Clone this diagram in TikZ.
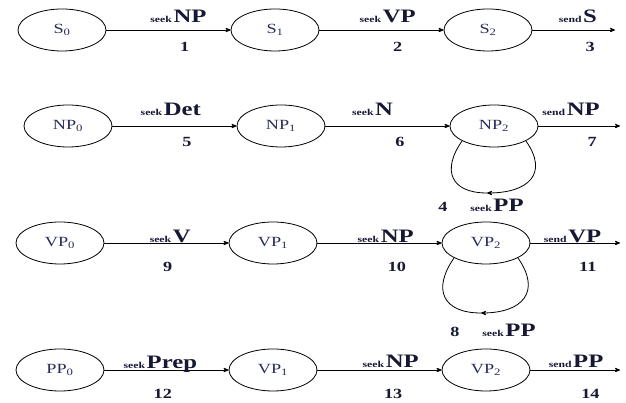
\documentclass[tikz,border=0pt]{standalone}
\usepackage{fontspec}
\setmainfont[FakeStretch=1.3]{Liberation Serif}
\usepackage{xcolor}
\usepackage{tikz}
\usetikzlibrary{arrows}
\usetikzlibrary{shapes.geometric}
\usetikzlibrary{positioning}
\definecolor{ink}{RGB}{40,44,92}
\definecolor{labink}{RGB}{22,24,52}
\newcommand{\seek}[1]{{\fontsize{9}{9}\selectfont\bfseries seek}\,{\fontsize{19}{19}\selectfont\bfseries #1}}
\newcommand{\send}[1]{{\fontsize{9}{9}\selectfont\bfseries send}\,{\fontsize{19}{19}\selectfont\bfseries #1}}

\begin{document}
\begin{tikzpicture}[x=1pt,y=1pt,->,>=stealth',node distance=213pt,line width=0.8pt]
						\tikzstyle{st}=[draw, ellipse, minimum width=88pt, minimum height=42pt, inner sep=0pt, text=ink, font=\fontsize{14}{14}\selectfont]
						\tikzstyle{act}=[anchor=base, inner sep=0pt, text=labink]
						\tikzstyle{num}=[inner sep=0pt, text=labink, font=\fontsize{14}{14}\selectfont\bfseries]
						\useasboundingbox (0,0) rectangle (626,403);
						% S
						\node[st] 			(s0) at (62,373)        {S\textsubscript{0}};
						\node[st] 			(s1) [right of=s0]      {S\textsubscript{1}};
						\node[st] 			(s2) [right of=s1]      {S\textsubscript{2}};
						\coordinate 		(s3) at (615,373);
						% NP
						\node[st] 			(np0) at (68,277)       {NP\textsubscript{0}};
						\node[st] 			(np1) [right of=np0]    {NP\textsubscript{1}};
						\node[st] 			(np2) [right of=np1]    {NP\textsubscript{2}};
						\coordinate 		(np3) at (620,277);
						\path (np2) ++(-7,-67) coordinate (np2lp);
						% VP
						\node[st] 			(vp0) at (60,160)       {VP\textsubscript{0}};
						\node[st] 			(vp1) [right of=vp0]    {VP\textsubscript{1}};
						\node[st] 			(vp2) [right of=vp1]    {VP\textsubscript{2}};
						\coordinate 		(vp3) at (620,160);
						\path (vp2) ++(-5,-70) coordinate (vp2lp);
						% PP
						\node[st] 			(pp0) at (60,33)        {PP\textsubscript{0}};
						\node[st] 			(pp1) [right of=pp0]    {VP\textsubscript{1}};
						\node[st] 			(pp2) [right of=pp1]    {VP\textsubscript{2}};
						\coordinate 		(pp3) at (620,33);
					\path
					 (s0) edge node[act, pos=.58, yshift=7pt] {\seek{NP}} node[num, pos=.63, yshift=-17pt] {1} (s1)
					 (s1) edge node[act, pos=.55, yshift=7pt] {\seek{VP}} node[num, pos=.63, yshift=-17pt] {2} (s2)
					 (s2) edge node[act, pos=.55, yshift=7pt] {\send{S}} node[num, pos=.70, yshift=-17pt] {3} (s3)
					 (np0) edge node[act, pos=.47, yshift=10pt] {\seek{Det}} node[num, pos=.60, yshift=-16pt] {5} (np1)
					 (np1) edge node[act, pos=.38, yshift=10pt] {\seek{N}} node[num, pos=.60, yshift=-16pt] {6} (np2)
					 (np2) edge node[act, pos=.40, yshift=10pt] {\send{NP}} node[num, pos=.66, yshift=-16pt] {7} (np3)
					 (vp0) edge node[act, pos=.53] {\seek{V}} node[num, pos=.51, yshift=-24pt] {9} (vp1)
					 (vp1) edge node[act, pos=.55] {\seek{NP}} node[num, pos=.64, yshift=-24pt] {10} (vp2)
					 (vp2) edge node[act, pos=.47] {\send{VP}} node[num, pos=.64, yshift=-24pt] {11} (vp3)
					 (pp0) edge node[act, pos=.45, yshift=1pt] {\seek{Prep}} node[num, pos=.47, yshift=-24pt] {12} (pp1)
					 (pp1) edge node[act, pos=.59, yshift=2pt] {\seek{NP}} node[num, pos=.61, yshift=-24pt] {13} (pp2)
					 (pp2) edge node[act, pos=.51, yshift=2pt] {\send{PP}} node[num, pos=.67, yshift=-24pt] {14} (pp3);
					% loops
					\draw (np2.-25) to[out=-55, in=0, looseness=1.6] (np2lp);
					\draw[-] (np2lp) to[out=180, in=-125, looseness=1.6] (np2.205);
					\path (np2lp) ++(-44,-14) node[num] {4} ++(54,-5) node[act] {\seek{PP}};
					\draw (vp2.-25) to[out=-55, in=0, looseness=1.6] (vp2lp);
					\draw[-] (vp2lp) to[out=180, in=-125, looseness=1.6] (vp2.205);
					\path (vp2lp) ++(-26,-19) node[num] {8} ++(54,-5) node[act] {\seek{PP}};
				\end{tikzpicture}
\end{document}
